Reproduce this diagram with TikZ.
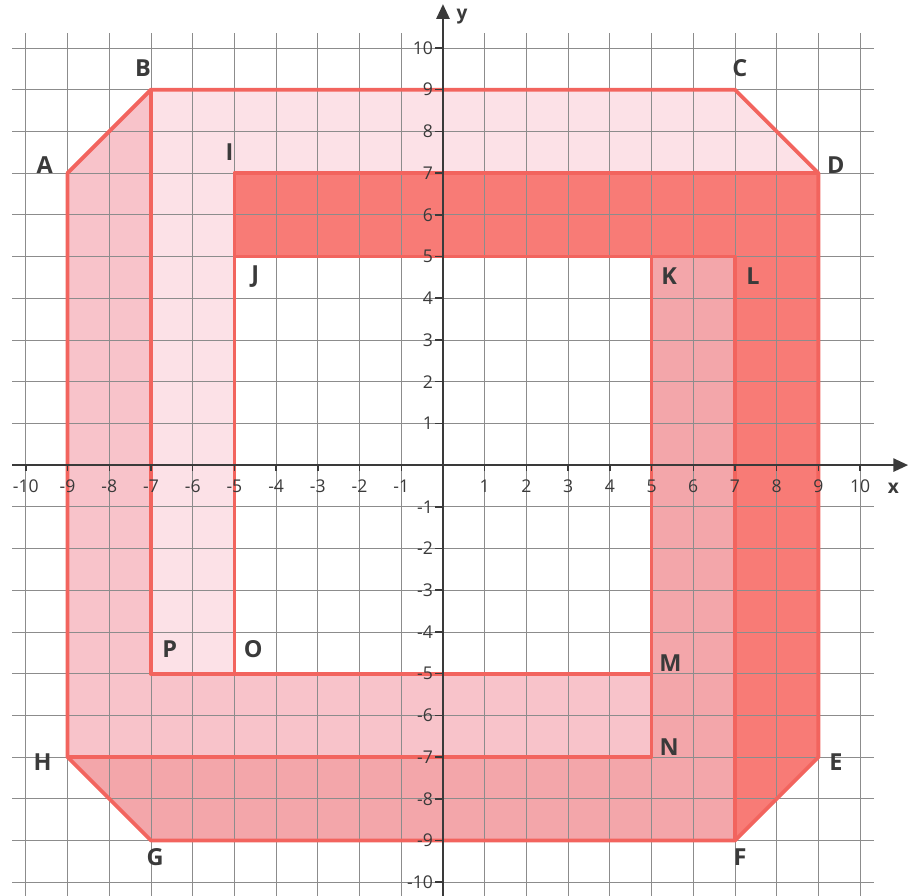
\documentclass[tikz,border=0pt]{standalone}
\usepackage{fontspec}
\setmainfont{Open Sans}
\usepackage{xcolor}
\usetikzlibrary{arrows.meta,positioning}
\definecolor{gridgray}{HTML}{8C8C8C}
\definecolor{axisgray}{HTML}{3A3A3A}
\definecolor{edgered}{HTML}{F2645E}
\definecolor{topface}{HTML}{FCE1E7}
\definecolor{sideface}{HTML}{F8C3CA}
\definecolor{lowface}{HTML}{F3A6AA}
\definecolor{frontface}{HTML}{F87B76}
\tikzset{
  gridline/.style={gridgray, line width=0.5pt},
  axis/.style={axisgray, line width=1.3pt, -{Triangle[length=10pt,width=9pt]}},
  edge/.style={edgered, line width=2.6pt, line join=round},
  ticklab/.style={text=axisgray, font=\fontsize{12}{12}\selectfont, inner sep=1pt},
  pt/.style={text=axisgray, font=\bfseries\fontsize{16}{16}\selectfont, inner sep=1pt}
}

\begin{document}
\begin{tikzpicture}
    \useasboundingbox (-10.62,-10.31) rectangle (11.46,11.15);
    % Corners of the frame
    \coordinate (A) at (-9,7);  \coordinate (B) at (-7,9);
    \coordinate (C) at (7,9);   \coordinate (D) at (9,7);
    \coordinate (E) at (9,-7);  \coordinate (F) at (7,-9);
    \coordinate (G) at (-7,-9); \coordinate (H) at (-9,-7);
    \coordinate (I) at (-5,7);  \coordinate (J) at (-5,5);
    \coordinate (K) at (5,5);   \coordinate (L) at (7,5);
    \coordinate (M) at (5,-5);  \coordinate (N) at (5,-7);
    \coordinate (O) at (-5,-5); \coordinate (P) at (-7,-5);
    % Faces
    \fill[topface] (B) -- (C) -- (D) -- (I) -- (O) -- (P) -- cycle;
    \fill[sideface] (A) -- (B) -- (P) -- (M) -- (N) -- (H) -- cycle;
    \fill[lowface] (K) -- (L) -- (F) -- (G) -- (H) -- (N) -- cycle;
    \fill[frontface] (I) -- (D) -- (E) -- (F) -- (L) -- (J) -- cycle;
    % Grid
    \foreach \i in {-10,...,10} {
      \draw[gridline] (\i,-10.45) -- (\i,10.36);
      \draw[gridline] (-10.33,\i) -- (10.33,\i);
    }
    % Edges
    \draw[edge] (A) -- (B) -- (C) -- (D) -- (E) -- (F) -- (G) -- (H) -- cycle;
    \draw[edge] (B) -- (P) -- (O) -- (I) -- (D);
    \draw[edge] (J) -- (L) -- (F);
    \draw[edge] (K) -- (N) -- (H);
    \draw[edge] (P) -- (M);
    % Axes
    \draw[axis] (-10.33,0) -- (11.15,0);
    \draw[axis] (0,-10.45) -- (0,11.05);
    \node[text=axisgray, font=\bfseries\fontsize{13}{13}\selectfont] (xlab) at (10.8,-0.55) {x};
    \node[text=axisgray, font=\bfseries\fontsize{13}{13}\selectfont] (ylab) at (0.46,10.75) {y};
    \foreach \i in {-10,...,-1,1,2,...,10} {
      \draw[axisgray, line width=1pt] (\i,0) -- (\i,-0.15);
      \draw[axisgray, line width=1pt] (-0.18,\i) -- (0,\i);
      \node[ticklab] (xt\i) at (\i,-0.5) {\i};
      \node[ticklab, anchor=east] (yt\i) at (-0.2,\i) {\i};
    }
    % Point labels
    \node[pt] (labA) at (-9.55,7.18) {A};
    \node[pt] (labB) at (-7.19,9.52) {B};
    \node[pt] (labC) at (7.12,9.52) {C};
    \node[pt] (labD) at (9.42,7.18) {D};
    \node[pt] (labE) at (9.42,-7.13) {E};
    \node[pt] (labF) at (7.12,-9.4) {F};
    \node[pt] (labG) at (-6.9,-9.4) {G};
    \node[pt] (labH) at (-9.6,-7.13) {H};
    \node[pt] (labI) at (-5.12,7.5) {I};
    \node[pt] (labJ) at (-4.5,4.53) {J};
    \node[pt] (labK) at (5.42,4.53) {K};
    \node[pt] (labL) at (7.43,4.53) {L};
    \node[pt] (labM) at (5.45,-4.74) {M};
    \node[pt] (labN) at (5.42,-6.77) {N};
    \node[pt] (labO) at (-4.55,-4.41) {O};
    \node[pt] (labP) at (-6.55,-4.41) {P};
\end{tikzpicture}
\end{document}
